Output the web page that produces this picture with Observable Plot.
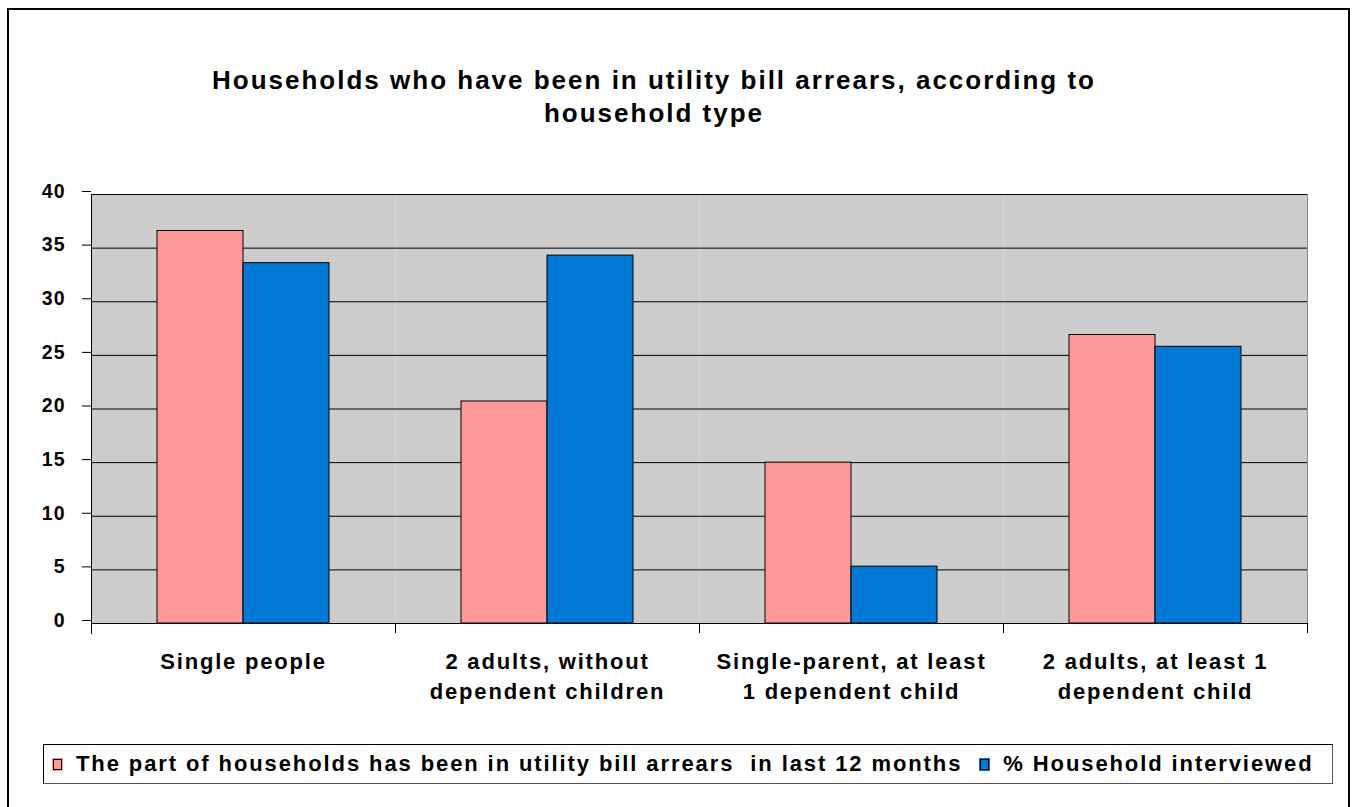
<!DOCTYPE html>
<html>
<head>
<meta charset="utf-8">
<script src="https://cdn.jsdelivr.net/npm/d3@7"></script>
<script src="https://cdn.jsdelivr.net/npm/@observablehq/plot@0.6"></script>
<style>
  html, body { margin: 0; padding: 0; background: #fff; }
  #wrap { position: relative; width: 1357px; height: 807px; overflow: hidden; font-family: "Liberation Sans", Arial, sans-serif; background: #fff; }
  #border { position: absolute; left: 7px; top: 8px; width: 1343px; height: 820px; border: 2px solid #000; box-sizing: border-box; pointer-events: none; }
  #title { position: absolute; left: 0; top: 64px; width: 1308px; text-align: center; font-weight: bold; font-size: 26px; line-height: 33px; letter-spacing: 2px; color: #000; }
  #chart { position: absolute; left: 0; top: 0; }
  #legend { position: absolute; left: 43px; top: 744px; width: 1290px; height: 40px; box-sizing: border-box; border: 1px solid #000; border-right-color: #555; border-bottom-color: #555; background: #fff; display: flex; align-items: center; padding-left: 9px; font-weight: bold; font-size: 22px; letter-spacing: 1.9px; white-space: pre; color: #000; }
  .sw { display: inline-block; width: 7px; height: 9px; border: 1px solid #000; outline: 1px solid; margin-right: 14px; }
  g[aria-label="fx-axis tick label"] text { letter-spacing: 1.8px; }
  g[aria-label="y-axis tick label"] text { letter-spacing: 1px; }
</style>
</head>
<body>
<div id="wrap">
  <div id="chart"></div>
  <div id="title"></div>
  <div id="legend"></div>
  <div id="border"></div>
</div>
<script>
const titleLines = ["Households who have been in utility bill arrears, according to", "household type"];
const categories = [
  "Single people",
  "2 adults, without\ndependent children",
  "Single-parent, at least\n1 dependent child",
  "2 adults, at least 1\ndependent child"
];
const seriesNames = [
  "The part of households has been in utility bill arrears  in last 12 months",
  "% Household interviewed"
];
const arrears = [36.6, 20.7, 15.0, 26.9];
const interviewed = [33.6, 34.3, 5.3, 25.8];
const yTicks = [0, 5, 10, 15, 20, 25, 30, 35, 40];
const colors = ["#FF9999", "#0078D4"];

const data = categories.flatMap((c, i) => [
  {category: c, series: seriesNames[0], value: arrears[i]},
  {category: c, series: seriesNames[1], value: interviewed[i]}
]);

document.getElementById("title").innerHTML = titleLines.join("<br>");

const legend = document.getElementById("legend");
seriesNames.forEach((s, i) => {
  const sw = document.createElement("span");
  sw.className = "sw";
  sw.style.background = colors[i];
  sw.style.outlineColor = colors[i];
  legend.appendChild(sw);
  const t = document.createElement("span");
  t.textContent = s;
  if (i === 0) t.style.marginRight = "18px";
  legend.appendChild(t);
});

const chart = Plot.plot({
  width: 1357,
  height: 807,
  marginLeft: 90,
  marginRight: 50,
  marginTop: 194,
  marginBottom: 184,
  style: {fontFamily: "'Liberation Sans', Arial, sans-serif", background: "transparent", color: "#000"},
  fx: {domain: categories, padding: 0, label: null},
  x: {domain: seriesNames, paddingInner: 0, paddingOuter: 0.76, axis: null},
  y: {domain: [0, 40], label: null},
  color: {domain: seriesNames, range: colors},
  marks: [
    Plot.frame({fill: "#cccccc"}),
    Plot.frame({anchor: "right", stroke: "#8a8a8a", facetAnchor: "right"}),
    Plot.gridY(yTicks, {stroke: "#000", strokeOpacity: 1}),
    Plot.barY(data, {fx: "category", x: "series", y: "value", fill: "series", stroke: "#000", strokeWidth: 1}),
    Plot.axisY(yTicks, {anchor: "left", tickSize: 9, tickPadding: 17, fontSize: 19.5, fontWeight: "bold", label: null, stroke: "#000", dy: -3}),
    Plot.frame({anchor: "left", stroke: "#000", facetAnchor: "left", insetBottom: -10}),
    Plot.frame({anchor: "left", stroke: "#000", insetTop: 429, insetBottom: -9}),
    Plot.frame({anchor: "right", stroke: "#000", facetAnchor: "right", insetTop: 429, insetBottom: -9}),
    Plot.axisFx({anchor: "bottom", tickSize: 0, tickPadding: 24, fontSize: 22, fontWeight: "bold", lineHeight: 1.36, label: null})
  ]
});
document.getElementById("chart").appendChild(chart);
</script>
</body>
</html>
